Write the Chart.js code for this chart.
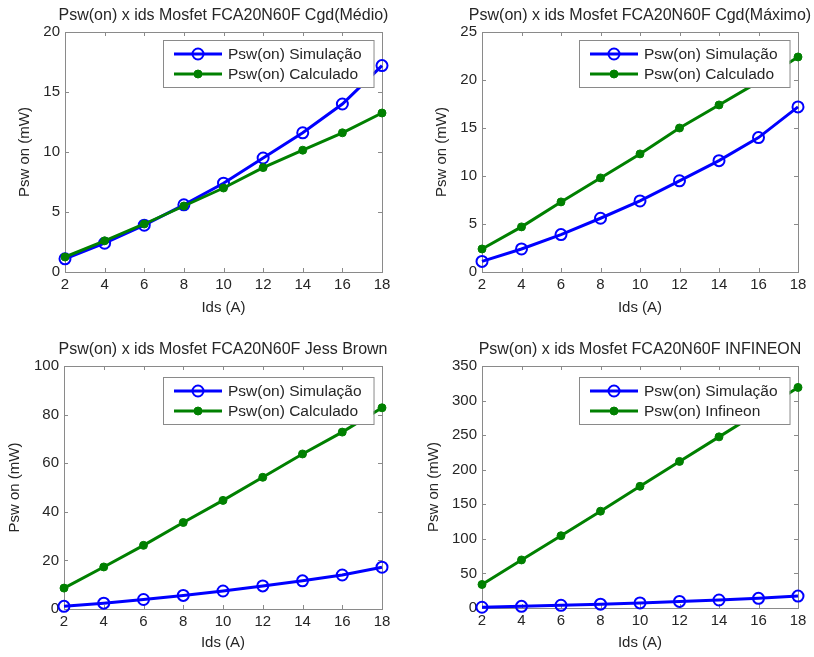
<!DOCTYPE html>
<html>
<head>
<meta charset="utf-8">
<script src="https://cdn.jsdelivr.net/npm/chart.js@4.4.0/dist/chart.umd.min.js"></script>
<style>
  body { margin: 0; background: #fff; }
  #fig { position: relative; width: 814px; height: 657px; }
  #fig canvas { position: absolute; }
</style>
</head>
<body>
<div id="fig">
  <canvas id="cMedio" width="407" height="328" style="left:0;top:0"></canvas>
  <canvas id="cMaximo" width="407" height="328" style="left:407px;top:0"></canvas>
  <canvas id="cJess" width="407" height="329" style="left:0;top:328px"></canvas>
  <canvas id="cInfineon" width="407" height="329" style="left:407px;top:328px"></canvas>
</div>
<script>
// corrente Ids (A)
const ids = [2, 4, 6, 8, 10, 12, 14, 16, 18];

// Psw(on) em mW
const pswSimulacao = [1.1, 2.4, 3.9, 5.6, 7.4, 9.5, 11.6, 14.0, 17.2];
const pswCalcMedio = [1.25, 2.6, 4.0, 5.5, 7.0, 8.7, 10.15, 11.6, 13.25];
const pswCalcMaximo = [2.4, 4.7, 7.3, 9.8, 12.3, 15.0, 17.4, 19.8, 22.4];
const pswCalcJessBrown = [8.6, 17.3, 26.2, 35.6, 44.7, 54.2, 63.8, 72.8, 82.8];
const pswInfineon = [34, 69.5, 104.5, 140, 176, 212, 247.5, 283, 319];

const BLUE = '#0000ff';
const GREEN = '#008000';
const BOX = '#8a8a8a';
const TEXT = '#262626';
const FONT = '"Liberation Sans", Arial, Helvetica, sans-serif';

Chart.defaults.font.family = FONT;
Chart.defaults.color = TEXT;

function points(values) {
    return ids.map((x, i) => ({ x, y: values[i] }));
}

function simSet(values) {
    return {
        label: 'Psw(on) Simulação',
        data: points(values),
        borderColor: BLUE,
        borderWidth: 3,
        pointStyle: 'circle',
        pointRadius: 5.5,
        pointBorderWidth: 2,
        pointBorderColor: BLUE,
        pointBackgroundColor: 'rgba(0,0,0,0)',
        clip: false,
        order: 1
    };
}

function calcSet(label, values) {
    return {
        label,
        data: points(values),
        borderColor: GREEN,
        borderWidth: 3,
        pointStyle: 'circle',
        pointRadius: 4,
        pointBorderWidth: 1,
        pointBorderColor: GREEN,
        pointBackgroundColor: GREEN,
        clip: false,
        order: 0
    };
}

// caixa estilo MATLAB: borda, marcas internas, título e legenda opaca
const matlabAxes = {
    id: 'matlabAxes',
    beforeDatasetsDraw(chart) {
        const { ctx, chartArea: a, scales } = chart;
        ctx.save();
        ctx.strokeStyle = BOX;
        ctx.lineWidth = 1;
        ctx.strokeRect(Math.round(a.left) + 0.5, Math.round(a.top) + 0.5,
            Math.round(a.width), Math.round(a.height));
        ctx.beginPath();
        scales.x.ticks.forEach(t => {
            const px = Math.round(scales.x.getPixelForValue(t.value)) + 0.5;
            ctx.moveTo(px, a.bottom); ctx.lineTo(px, a.bottom - 4);
            ctx.moveTo(px, a.top); ctx.lineTo(px, a.top + 4);
        });
        scales.y.ticks.forEach(t => {
            const py = Math.round(scales.y.getPixelForValue(t.value)) + 0.5;
            ctx.moveTo(a.left, py); ctx.lineTo(a.left + 4, py);
            ctx.moveTo(a.right, py); ctx.lineTo(a.right - 4, py);
        });
        ctx.stroke();
        ctx.restore();
    },
    afterDatasetsDraw(chart, args, opts) {
        const { ctx, chartArea: a } = chart;
        ctx.save();

        ctx.fillStyle = TEXT;
        ctx.font = `16px ${FONT}`;
        ctx.textAlign = 'center';
        ctx.textBaseline = 'middle';
        ctx.fillText(opts.title, (a.left + a.right) / 2, a.top - 16);

        ctx.font = `15.5px ${FONT}`;
        const sets = chart.data.datasets;
        const textW = Math.max(...sets.map(d => ctx.measureText(d.label).width));
        const w = 65 + textW + 12;
        const h = 47;
        const left = Math.round(a.right - 8 - w);
        const top = Math.round(a.top + opts.legendTop);
        ctx.fillStyle = '#fff';
        ctx.fillRect(left, top, w, h);
        ctx.strokeStyle = BOX;
        ctx.lineWidth = 1;
        ctx.strokeRect(left + 0.5, top + 0.5, w, h);

        sets.forEach((d, i) => {
            const y = top + 14 + i * 20;
            ctx.strokeStyle = d.borderColor;
            ctx.lineWidth = d.borderWidth;
            ctx.beginPath();
            ctx.moveTo(left + 11, y);
            ctx.lineTo(left + 59, y);
            ctx.stroke();
            ctx.beginPath();
            ctx.arc(left + 35, y, d.pointRadius, 0, Math.PI * 2);
            ctx.fillStyle = d.pointBackgroundColor;
            ctx.fill();
            ctx.lineWidth = d.pointBorderWidth;
            ctx.strokeStyle = d.pointBorderColor;
            ctx.stroke();
            ctx.fillStyle = TEXT;
            ctx.textAlign = 'left';
            ctx.fillText(d.label, left + 65, y + 1);
        });
        ctx.restore();
    }
};

function makeChart(id, cfg) {
    return new Chart(document.getElementById(id), {
        type: 'line',
        data: { datasets: cfg.datasets },
        plugins: [matlabAxes],
        options: {
            responsive: false,
            animation: false,
            events: [],
            layout: { padding: { left: 0, top: cfg.top, right: cfg.right, bottom: 0 } },
            plugins: {
                legend: { display: false },
                tooltip: { enabled: false },
                matlabAxes: { title: cfg.title, legendTop: cfg.legendTop }
            },
            scales: {
                x: {
                    type: 'linear',
                    min: 2,
                    max: 18,
                    grid: { display: false, drawTicks: false },
                    border: { display: false },
                    ticks: { stepSize: 2, padding: 4, autoSkip: false, maxRotation: 0, font: { size: 15 } },
                    title: { display: true, text: 'Ids (A)', font: { size: 15 }, padding: { top: 0, bottom: cfg.xTitle } },
                    afterFit: s => { s.height = cfg.xHeight; }
                },
                y: {
                    type: 'linear',
                    min: 0,
                    max: cfg.yMax,
                    grid: { display: false, drawTicks: false },
                    border: { display: false },
                    ticks: { stepSize: cfg.yStep, padding: 5, autoSkip: false, font: { size: 15 } },
                    title: { display: true, text: 'Psw on (mW)', font: { size: 15 }, padding: { top: cfg.yTitle, bottom: 0 } },
                    afterFit: s => { s.width = cfg.yWidth; }
                }
            }
        }
    });
}

makeChart('cMedio', {
    title: 'Psw(on) x ids Mosfet FCA20N60F Cgd(Médio)',
    datasets: [simSet(pswSimulacao), calcSet('Psw(on) Calculado', pswCalcMedio)],
    yMax: 20, yStep: 5,
    top: 32, right: 25, yWidth: 65, xHeight: 56, yTitle: 16, xTitle: 11, legendTop: 8
});

makeChart('cMaximo', {
    title: 'Psw(on) x ids Mosfet FCA20N60F Cgd(Máximo)',
    datasets: [simSet(pswSimulacao), calcSet('Psw(on) Calculado', pswCalcMaximo)],
    yMax: 25, yStep: 5,
    top: 32, right: 16, yWidth: 75, xHeight: 56, yTitle: 26, xTitle: 11, legendTop: 8
});

makeChart('cJess', {
    title: 'Psw(on) x ids Mosfet FCA20N60F Jess Brown',
    datasets: [simSet(pswSimulacao), calcSet('Psw(on) Calculado', pswCalcJessBrown)],
    yMax: 100, yStep: 20,
    top: 38, right: 25, yWidth: 64, xHeight: 48, yTitle: 6, xTitle: 5, legendTop: 11
});

makeChart('cInfineon', {
    title: 'Psw(on) x ids Mosfet FCA20N60F INFINEON',
    datasets: [simSet(pswSimulacao), calcSet('Psw(on) Infineon', pswInfineon)],
    yMax: 350, yStep: 50,
    top: 38, right: 16, yWidth: 75, xHeight: 49, yTitle: 18, xTitle: 5, legendTop: 11
});
</script>
</body>
</html>
